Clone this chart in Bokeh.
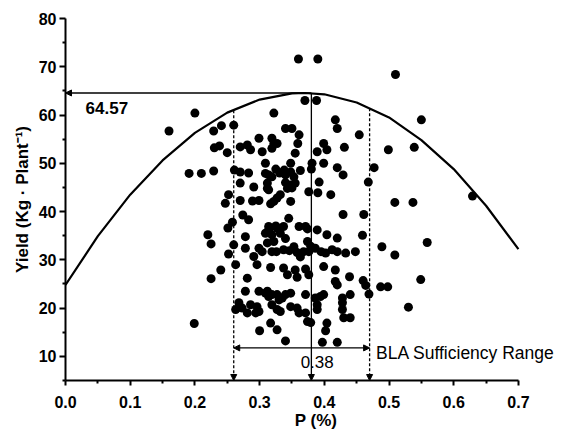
from bokeh.plotting import figure
from bokeh.models import Range1d, FixedTicker, NumeralTickFormatter, Arrow, NormalHead, Label, ColumnDataSource
from bokeh.embed import file_html
from bokeh.resources import INLINE

# ---- data ----
p_pct = [0.160, 0.200, 0.229, 0.241, 0.230, 0.238, 0.191, 0.210, 0.229, 0.247,
         0.220, 0.225, 0.240, 0.225, 0.199, 0.250, 0.252, 0.251, 0.252, 0.260,
         0.261, 0.270, 0.270, 0.281, 0.286, 0.283, 0.270, 0.291, 0.270, 0.289,
         0.299, 0.274, 0.283, 0.258, 0.299, 0.304, 0.309, 0.309, 0.312, 0.312,
         0.322, 0.340, 0.350, 0.361, 0.319, 0.322, 0.327, 0.319, 0.359, 0.355,
         0.348, 0.325, 0.331, 0.338, 0.348, 0.363, 0.314, 0.319, 0.340, 0.353,
         0.340, 0.348, 0.355, 0.343, 0.350, 0.314, 0.332, 0.327, 0.322, 0.317,
         0.348, 0.376, 0.345, 0.314, 0.325, 0.371, 0.360, 0.390, 0.370, 0.388,
         0.417, 0.420, 0.454, 0.389, 0.399, 0.404, 0.431, 0.499, 0.381, 0.380,
         0.399, 0.420, 0.429, 0.477, 0.392, 0.468, 0.390, 0.410, 0.429, 0.461,
         0.510, 0.550, 0.539, 0.629, 0.509, 0.537, 0.559, 0.549, 0.530, 0.509,
         0.489, 0.278, 0.278, 0.260, 0.263, 0.281, 0.278, 0.268, 0.273, 0.263,
         0.286, 0.296, 0.294, 0.281, 0.299, 0.300, 0.291, 0.296, 0.299, 0.304,
         0.309, 0.312, 0.309, 0.314, 0.299, 0.317, 0.317, 0.314, 0.319, 0.327,
         0.337, 0.332, 0.322, 0.340, 0.361, 0.374, 0.389, 0.374, 0.379, 0.386,
         0.319, 0.326, 0.337, 0.346, 0.353, 0.358, 0.363, 0.368, 0.376, 0.337,
         0.343, 0.355, 0.358, 0.371, 0.376, 0.312, 0.319, 0.327, 0.340, 0.348,
         0.335, 0.330, 0.371, 0.319, 0.327, 0.332, 0.348, 0.358, 0.361, 0.371,
         0.374, 0.379, 0.327, 0.340, 0.404, 0.420, 0.459, 0.395, 0.402, 0.412,
         0.420, 0.433, 0.448, 0.399, 0.417, 0.417, 0.420, 0.439, 0.460, 0.464,
         0.487, 0.498, 0.386, 0.394, 0.399, 0.428, 0.440, 0.469, 0.389, 0.389,
         0.428, 0.428, 0.430, 0.440, 0.404, 0.402, 0.397, 0.420]
yield_kg = [56.7, 60.4, 56.7, 57.8, 53.2, 53.6, 47.9, 47.9, 48.4, 41.7,
            35.2, 33.3, 27.9, 26.1, 16.8, 52.2, 43.5, 36.6, 31.2, 57.9,
            48.6, 48.2, 53.4, 53.8, 52.8, 48.0, 45.9, 45.1, 42.3, 42.2,
            42.3, 39.3, 38.3, 37.8, 55.2, 52.4, 50.0, 47.9, 45.9, 44.8,
            60.4, 57.2, 57.2, 55.9, 55.2, 54.1, 54.1, 53.1, 54.1, 52.1,
            50.0, 48.8, 48.0, 48.6, 48.2, 48.5, 47.6, 47.2, 47.6, 47.2,
            46.0, 45.5, 45.9, 44.8, 44.9, 44.5, 43.5, 42.8, 42.1, 41.6,
            42.1, 44.1, 38.6, 36.9, 37.0, 36.9, 71.6, 71.6, 63.0, 63.0,
            59.0, 57.2, 55.9, 52.4, 54.1, 52.8, 53.3, 52.8, 50.0, 48.8,
            50.0, 49.1, 47.6, 49.1, 46.1, 46.1, 43.9, 43.5, 39.4, 39.4,
            68.4, 59.0, 53.3, 43.2, 41.9, 41.9, 33.6, 25.9, 20.2, 31.0,
            32.7, 34.8, 32.4, 33.1, 29.0, 26.2, 23.5, 21.1, 20.0, 19.7,
            20.7, 20.3, 19.0, 19.0, 23.5, 15.3, 30.7, 29.0, 32.4, 31.7,
            35.5, 33.5, 23.1, 22.4, 19.3, 16.9, 28.4, 36.2, 35.2, 36.6,
            36.9, 35.5, 33.8, 34.4, 36.9, 36.4, 36.2, 33.8, 32.8, 32.4,
            31.7, 31.7, 32.1, 31.9, 32.7, 31.5, 30.6, 31.7, 31.7, 28.3,
            26.9, 27.9, 26.4, 28.1, 26.9, 23.5, 22.8, 22.8, 22.8, 23.1,
            22.1, 21.7, 22.8, 20.7, 19.7, 19.3, 20.3, 20.0, 19.0, 19.0,
            17.2, 17.0, 15.5, 13.2, 35.2, 34.5, 35.1, 31.7, 31.4, 32.1,
            31.7, 31.4, 31.7, 28.6, 27.9, 25.5, 24.8, 26.5, 25.7, 24.7,
            24.4, 24.4, 22.1, 22.4, 22.8, 22.1, 22.8, 22.9, 20.7, 19.7,
            21.1, 19.7, 18.0, 18.0, 16.9, 15.3, 12.9, 12.9]

# boundary-line (BLA) curve
curve_p = [0.0, 0.05, 0.10, 0.15, 0.20, 0.25, 0.30, 0.35, 0.37, 0.40, 0.45, 0.50, 0.55, 0.60, 0.65, 0.70]
curve_yield = [24.8, 34.9, 43.5, 50.6, 56.3, 60.5, 63.2, 64.5, 64.57, 64.3, 62.6, 59.5, 54.8, 48.8, 41.2, 32.2]

max_yield = 64.57
optimum_p = 0.38
range_low = 0.26
range_high = 0.47
range_low_top = 61.0
range_high_top = 61.4
range_arrow_y = 11.75

x_ticks = [0.0, 0.1, 0.2, 0.3, 0.4, 0.5, 0.6, 0.7]
x_minor = [0.05, 0.15, 0.25, 0.35, 0.45, 0.55, 0.65]
y_ticks = [10, 20, 30, 40, 50, 60, 70, 80]
y_minor = [5, 15, 25, 35, 45, 55, 65, 75]

x_title = "P (%)"
y_title = "Yield (Kg · Plant⁻¹)"

FONT = "Liberation Sans"

p = figure(width=566, height=436, x_range=Range1d(0, 0.7743), y_range=Range1d(5, 80),
           output_backend="svg", toolbar_location=None,
           min_border_left=65, min_border_right=0, min_border_top=18, min_border_bottom=56)
p.outline_line_color = None
p.xgrid.visible = False
p.ygrid.visible = False
p.background_fill_color = "white"
p.border_fill_color = "white"

for ax in (p.xaxis[0], p.yaxis[0]):
    ax.axis_line_color = "black"
    ax.axis_line_width = 2
    ax.major_tick_line_color = "black"
    ax.major_tick_line_width = 2
    ax.minor_tick_line_color = "black"
    ax.minor_tick_line_width = 2
    ax.major_tick_in = 0
    ax.minor_tick_in = 0
    ax.minor_tick_out = 3
    ax.major_label_text_font = FONT
    ax.major_label_text_font_style = "bold"
    ax.major_label_text_font_size = "16px"
    ax.major_label_text_color = "black"
    ax.axis_label_text_font = FONT
    ax.axis_label_text_font_style = "bold"
    ax.axis_label_text_font_size = "17px"
    ax.axis_label_text_color = "black"

xa = p.xaxis[0]
xa.ticker = FixedTicker(ticks=x_ticks, minor_ticks=x_minor)
xa.formatter = NumeralTickFormatter(format="0.0")
xa.bounds = (0, 0.7)
xa.major_tick_out = 5
xa.major_label_standoff = 10
xa.axis_label = x_title
xa.axis_label_standoff = 0

ya = p.yaxis[0]
ya.ticker = FixedTicker(ticks=y_ticks, minor_ticks=y_minor)
ya.bounds = (5, 80)
ya.major_tick_out = 6
ya.major_label_standoff = 3
ya.axis_label = y_title
ya.axis_label_standoff = 4

# curve
p.line(curve_p, curve_yield, line_color="black", line_width=2.2)

# points
src = ColumnDataSource(dict(x=p_pct, y=yield_kg))
p.scatter("x", "y", source=src, size=9, fill_color="black", line_color=None)

def head():
    return NormalHead(size=6, fill_color="black", line_color="black", line_width=1)

# horizontal arrow to the y axis at max yield
p.add_layout(Arrow(end=head(), x_start=optimum_p, y_start=max_yield, x_end=0.0, y_end=max_yield,
                   line_color="black", line_width=1.3))
# vertical arrow at optimum
p.add_layout(Arrow(end=head(), x_start=optimum_p, y_start=max_yield, x_end=optimum_p, y_end=5,
                   line_color="black", line_width=1.3))
# dashed arrows at range limits
p.add_layout(Arrow(end=head(), x_start=range_low, y_start=range_low_top, x_end=range_low, y_end=5,
                   line_color="black", line_width=1.3, line_dash="3 2"))
p.add_layout(Arrow(end=head(), x_start=range_high, y_start=range_high_top, x_end=range_high, y_end=5,
                   line_color="black", line_width=1.3, line_dash="3 2"))
# double arrow for sufficiency range
p.add_layout(Arrow(start=head(), end=head(), x_start=range_low, y_start=range_arrow_y,
                   x_end=range_high, y_end=range_arrow_y, line_color="black", line_width=1.3))

p.add_layout(Label(x=0.031, y=61.4, text="64.57", text_font=FONT, text_font_style="bold",
                   text_font_size="17px", text_baseline="middle", text_align="left", text_color="black"))
p.add_layout(Label(x=0.389, y=8.8, text="0.38", text_font=FONT, text_font_size="17px",
                   text_baseline="middle", text_align="center", text_color="black"))
p.add_layout(Label(x=0.48, y=10.7, text="BLA Sufficiency Range", text_font=FONT, text_font_size="17.5px",
                   text_baseline="middle", text_align="left", text_color="black"))

open("out.html", "w").write(file_html(p, INLINE))
